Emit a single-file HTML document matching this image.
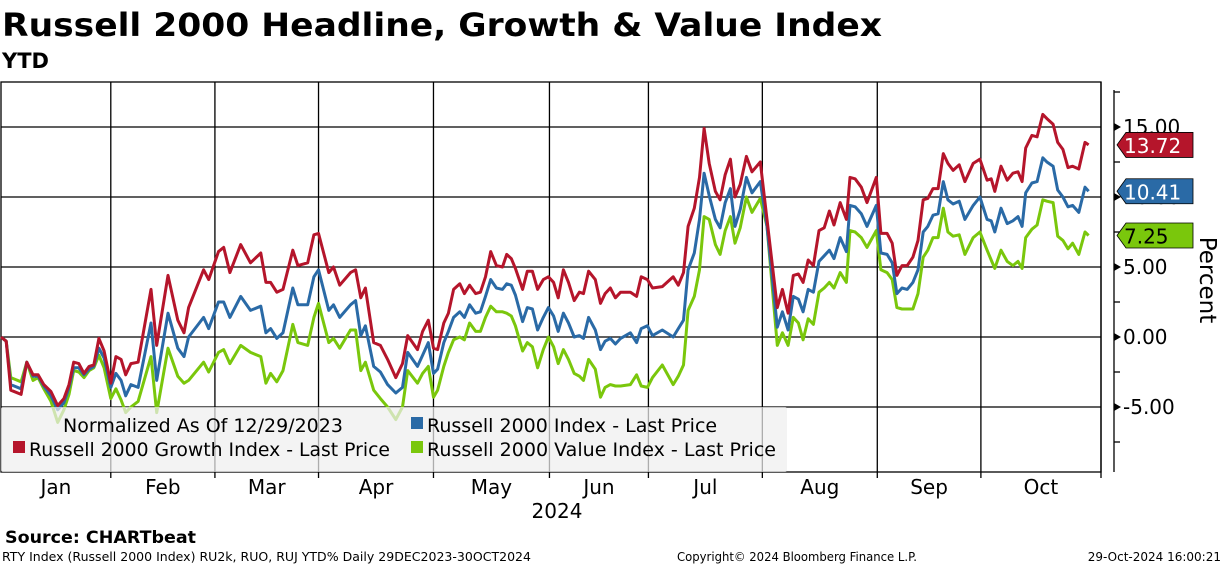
<!DOCTYPE html>
<html><head><meta charset="utf-8"><style>
html,body{margin:0;padding:0;background:#fff;}
svg{display:block;font-family:"DejaVu Sans","Liberation Sans",sans-serif;}
</style></head><body>
<svg id="chart" width="1224" height="566" viewBox="0 0 1224 566" xmlns="http://www.w3.org/2000/svg">
<text x="2" y="36" font-size="32" font-weight="bold" textLength="880" lengthAdjust="spacingAndGlyphs">Russell 2000 Headline, Growth &amp; Value Index</text>
<text x="2" y="68" font-size="21" font-weight="bold">YTD</text>
<g id="grid"></g>
<g id="series"></g>
<rect x="1" y="407" width="786" height="65" rx="2" fill="rgb(238,238,238)" fill-opacity="0.72"/>
<g font-size="19" fill="#000">
<text x="63" y="432">Normalized As Of 12/29/2023</text>
<rect x="13" y="441" width="12" height="12" fill="#b5152b"/>
<text x="29" y="456" textLength="361" lengthAdjust="spacingAndGlyphs">Russell 2000 Growth Index - Last Price</text>
<rect x="411" y="417" width="12" height="12" fill="#2a6aa6"/>
<text x="427" y="432">Russell 2000 Index - Last Price</text>
<rect x="411" y="441" width="12" height="12" fill="#7ac70c"/>
<text x="427" y="456" textLength="349" lengthAdjust="spacingAndGlyphs">Russell 2000 Value Index - Last Price</text>
</g>
<g id="axes"></g>
<text x="557" y="518" font-size="20" text-anchor="middle">2024</text>
<text transform="translate(1200,280) rotate(90)" font-size="23" text-anchor="middle">Percent</text>
<text x="5" y="543" font-size="17" font-weight="bold" textLength="191" lengthAdjust="spacingAndGlyphs">Source:  CHARTbeat</text>
<text x="2" y="561" font-size="12" textLength="529" lengthAdjust="spacingAndGlyphs">RTY Index (Russell 2000 Index) RU2k, RUO, RUJ YTD%  Daily 29DEC2023-30OCT2024</text>
<text x="677" y="561" font-size="12" textLength="240" lengthAdjust="spacingAndGlyphs">Copyright© 2024 Bloomberg Finance L.P.</text>
<text x="1221" y="561" font-size="12" text-anchor="end">29-Oct-2024 16:00:21</text>
</svg>
<script>
const days=[0,1.0,1.9,3.9,5.0,6.2,7.2,8.3,9.7,11.0,12.2,13.2,14.1,15.1,16.1,17.1,18.0,19.0,20.0,21.3,22.3,23.3,24.2,25.2,26.6,29.1,30.2,32.4,34.3,35.5,36.4,39.3,40.3,42.2,43.2,44.4,46.5,48.4,50.4,51.4,52.3,53.5,54.7,56.6,57.6,59.5,60.7,61.6,63.6,64.5,65.7,67.8,68.8,69.8,70.7,72.3,73.6,75.0,76.6,77.9,78.9,80.8,81.8,82.9,83.9,84.7,85.9,86.8,87.8,89.0,89.9,90.9,92.1,93.0,94.0,95.0,96.1,97.3,98.1,99.0,99.8,101.2,102.1,103.1,104.1,105.2,106.2,107.2,108.1,109.1,110.1,111.2,112.2,113.0,114.0,115.3,116.3,117.2,118.2,119.2,120.2,122.1,123.3,124.2,125.4,126.4,128.3,130.4,131.4,132.4,133.3,134.5,135.5,136.4,137.4,138.6,139.5,140.5,141.5,142.4,143.4,144.6,145.7,147.3,148.6,150.6,151.6,152.7,153.7,154.7,155.6,156.6,157.6,158.7,159.7,160.7,161.6,162.8,164.0,164.7,165.7,166.9,168.0,169.8,170.7,171.9,172.9,173.8,174.8,175.8,176.9,177.9,178.9,179.8,180.8,181.8,182.8,183.7,184.7,185.9,187.0,188.6,189.9,191.3,192.1,192.8,194.0,195.2,196.3,197.3,198.1,198.8,200.0,201.0,202.1,202.9,204.1,205.0,206.0,207.0,207.9,209.1,210.3,211.0];
const growth=[0,-0.3,-3.8,-4.1,-1.8,-2.7,-2.7,-3.4,-3.9,-4.9,-4.4,-3.4,-1.8,-1.9,-2.6,-2.1,-2.0,-0.1,-1.0,-3.3,-1.4,-1.6,-2.7,-1.9,-1.8,3.4,-0.6,4.4,1.2,0.3,2.1,4.8,4.1,6.1,6.4,4.6,6.6,5.3,6.0,3.9,3.9,3.2,3.4,6.2,5.1,5.3,7.3,7.4,4.6,5.0,3.7,4.6,4.8,2.8,3.5,-0.4,-0.6,-1.6,-2.9,-1.9,0.1,-0.9,0.4,1.2,-0.8,-0.9,1.0,1.7,3.4,3.8,3.1,3.7,3.1,3.2,4.3,6.1,5.1,5.0,5.9,5.6,4.9,3.4,4.7,4.7,3.4,4.1,4.3,3.9,2.8,4.8,3.9,2.6,3.2,3.1,4.7,4.1,2.4,3.1,3.5,2.8,3.2,3.2,2.9,4.3,4.1,3.5,3.6,4.3,3.7,4.6,7.9,9.2,11.4,14.9,12.4,10.4,9.8,11.6,12.7,10.0,10.9,12.9,11.8,12.5,8.4,2.1,3.4,1.7,4.4,4.5,3.9,5.5,5.1,7.6,7.8,9.0,8.0,9.6,8.4,11.4,11.3,10.7,9.6,11.4,7.4,7.4,6.7,4.4,5.1,5.1,5.7,6.9,9.8,9.9,10.6,10.6,13.1,12.4,11.9,12.3,11.1,12.4,12.7,11.2,11.3,10.4,12.2,11.2,11.7,11.8,11.1,13.5,14.4,14.3,15.9,15.6,15.2,13.9,13.4,12.1,12.2,12.0,13.9,13.72];
const headline=[0,-0.3,-3.4,-3.7,-1.8,-2.8,-2.8,-3.5,-4.2,-5.2,-4.7,-3.6,-2.2,-2.2,-2.7,-2.3,-2.1,-0.8,-1.5,-3.6,-2.6,-3.1,-4.2,-3.4,-3.6,1.0,-3.1,1.7,-0.8,-1.4,0.0,1.4,0.6,2.5,2.5,1.4,2.9,1.9,2.2,0.3,0.6,-0.1,0.3,3.5,2.3,2.3,4.3,4.8,1.9,2.3,1.4,2.3,2.6,0.1,0.8,-2.1,-2.5,-3.4,-4.0,-3.6,-1.1,-2.1,-1.3,-0.4,-2.6,-2.3,-0.4,0.4,1.4,1.8,1.4,2.3,1.7,1.8,2.9,4.1,3.5,3.4,3.8,3.7,3.0,1.1,2.1,2.0,0.5,1.4,2.1,1.5,0.4,1.7,1.0,0.0,0.1,-0.1,1.4,0.5,-0.9,-0.3,-0.1,-0.5,-0.1,0.3,-0.4,0.6,0.8,0.1,0.5,0.0,0.6,1.2,4.8,6.0,8.4,11.7,10.1,8.4,7.8,9.6,10.6,7.9,9.1,11.4,10.3,11.1,7.9,0.7,1.8,0.5,2.9,2.7,1.8,3.4,3.2,5.4,5.8,6.2,5.6,7.1,6.1,9.4,9.3,8.8,7.9,9.4,6.0,5.9,5.3,3.1,3.5,3.4,3.9,4.8,7.5,7.9,8.7,8.8,11.1,9.8,9.5,9.7,8.4,9.4,10.0,8.4,8.3,7.5,9.2,8.1,8.3,8.6,7.9,10.3,11.0,11.1,12.8,12.5,12.2,10.5,10.0,9.3,9.4,8.9,10.7,10.41];
const value=[0,-0.3,-2.9,-3.2,-1.8,-3.1,-2.9,-3.7,-4.6,-6.1,-5.2,-4.1,-2.4,-2.5,-2.9,-2.4,-2.2,-1.3,-2.2,-4.4,-3.7,-4.5,-5.4,-5.0,-4.6,-1.4,-5.4,-0.8,-2.8,-3.3,-3.1,-1.8,-2.5,-1.1,-0.9,-1.9,-0.6,-1.1,-1.4,-3.3,-2.6,-3.2,-2.4,0.9,-0.4,-0.6,1.4,2.4,-0.4,-0.1,-0.8,0.5,0.5,-2.4,-1.8,-3.8,-4.4,-5.0,-5.9,-5.0,-2.4,-3.3,-2.6,-2.1,-4.3,-3.8,-2.1,-1.1,-0.2,0.0,-0.2,1.0,0.4,0.4,1.4,2.2,1.8,1.8,1.7,1.5,0.8,-1.0,-0.4,-0.7,-2.2,-0.9,0.0,-0.7,-1.9,-0.9,-1.6,-2.6,-2.8,-3.1,-1.6,-2.3,-4.3,-3.6,-3.4,-3.5,-3.5,-3.4,-2.7,-3.5,-3.6,-2.9,-2.0,-3.4,-2.8,-2.0,1.9,2.9,4.8,8.6,8.4,6.6,5.9,7.6,8.6,6.7,7.8,10.0,8.9,9.9,7.9,-0.6,0.3,-0.6,1.4,1.0,-0.2,1.3,0.9,3.2,3.5,3.9,3.5,4.6,3.9,7.6,7.5,7.1,6.4,7.6,4.8,4.6,4.1,2.1,2.0,2.0,2.0,3.1,5.7,6.2,7.1,7.1,9.2,7.5,7.2,7.3,5.9,7.1,7.5,6.2,5.5,4.9,6.2,5.4,5.1,5.4,4.9,7.1,7.7,8.0,9.8,9.7,9.6,7.2,6.9,6.3,6.7,5.9,7.5,7.25];
const monthStarts=[21.3,41.5,61.6,83.9,106.4,125.6,147.7,170.0,190.1,213.4];
const monthLabels=["Jan","Feb","Mar","Apr","May","Jun","Jul","Aug","Sep","Oct"];
const yTicks=[15,10,5,0,-5];
const yTickLabels=["15.00","10.00","5.00","0.00","-5.00"];

const NS="http://www.w3.org/2000/svg";
const PL=1,PR=1101,PT=82,PB=472,AX=1114;
const xs=t=>PL+t*(1100/213.4);
const ys=v=>337-v*14;
function mk(tag,attrs,parent){const e=document.createElementNS(NS,tag);for(const k in attrs)e.setAttribute(k,attrs[k]);parent.appendChild(e);return e;}
const grid=document.getElementById('grid'),axes=document.getElementById('axes'),series=document.getElementById('series');

mk('rect',{x:PL,y:PT,width:PR-PL,height:PB-PT,fill:'none',stroke:'#000','stroke-width':1.3},grid);
yTicks.forEach((v,i)=>{
  const l=mk('line',{x1:PL,x2:PR,y1:ys(v),y2:ys(v),stroke:'#000','stroke-width':1.3},grid);
  
  
  const a=mk('path',{d:`M${AX} ${ys(v)-4}L${AX+7} ${ys(v)}L${AX} ${ys(v)+4}Z`,fill:'#000'},axes);
  
  
  const t=mk('text',{x:AX+9,y:ys(v)+7,'font-size':20},axes);
  t.textContent=yTickLabels[i];
  
  
});
for(let v=-7.5;v<=17.5;v+=5){
  const m=mk('line',{x1:AX,x2:AX+6,y1:ys(v),y2:ys(v),stroke:'#000','stroke-width':1.3},axes);
  
  
}
const yax=mk('line',{x1:AX,x2:AX,y1:PT+8,y2:PB,stroke:'#000','stroke-width':1.3},axes);


let prev=0;
monthStarts.forEach((m,i)=>{
  const x=xs(m);
  const l=mk('line',{x1:x,x2:x,y1:PT,y2:PB+6,stroke:'#000','stroke-width':1.3},grid);
  
  
  const t=mk('text',{x:(xs(prev)+x)/2,y:494,'font-size':20,'text-anchor':'middle'},axes);
  t.textContent=monthLabels[i];
  
  
  prev=m;
});
function line(vals,color,name){
  const d=vals.map((v,i)=>(i?'L':'M')+xs(days[i]).toFixed(1)+' '+ys(v).toFixed(1)).join('');
  const p=mk('path',{d,fill:'none',stroke:color,'stroke-width':3,'stroke-linejoin':'round'},series);
  
  
}
line(value,'#7ac70c','value-line');
line(headline,'#2a6aa6','headline-line');
line(growth,'#b5152b','growth-line');
function tag(v,color,tcolor,name){
  const y=ys(v);
  const g=mk('g',{},axes);
  
  
  mk('path',{d:`M${AX+3} ${y}L${AX+12} ${y-12.5}H1193V${y+12.5}H${AX+12}Z`,fill:color,stroke:'#000','stroke-width':0.8},g);
  const t=mk('text',{x:1124,y:y+8,'font-size':20,fill:tcolor},g);
  t.textContent=v.toFixed(2);
}
tag(growth[growth.length-1],'#b5152b','#fff','growth-last-value');
tag(headline[headline.length-1],'#2a6aa6','#fff','headline-last-value');
tag(value[value.length-1],'#7ac70c','#000','value-last-value');
</script>
</body></html>
